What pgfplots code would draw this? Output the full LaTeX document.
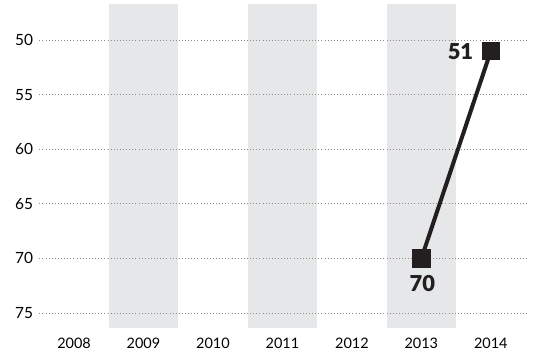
\documentclass[border=0pt]{standalone}
\usepackage{fontspec}
\setmainfont{Lato}
\newfontfamily\latoblack{Lato Black}
\usepackage{pgfplots}
\pgfplotsset{compat=1.18}
\definecolor{band}{HTML}{E6E7E8}
\definecolor{ink}{HTML}{231F20}
\definecolor{gridc}{HTML}{8C8C8C}
\begin{document}
\begin{tikzpicture}
\begin{axis}[
  set layers,
  scale only axis,
  width=487.7bp, height=323.7bp,
  xmin=2007.5, xmax=2014.52,
  ymin=46.7, ymax=76.35,
  y dir=reverse,
  xtick={2008,...,2014},
  ytick={50,55,60,65,70,75},
  xticklabel style={font=\fontsize{14.5}{16}\selectfont, anchor=north, inner sep=0pt, yshift=-10bp},
  yticklabel style={font=\fontsize{15.5}{17}\selectfont, anchor=east, inner sep=0pt, xshift=-6bp},
  /pgf/number format/assume math mode=true,
  /pgf/number format/1000 sep={},
  axis line style={draw=none},
  major tick length=0pt,
  tick style={draw=none},
  ymajorgrids,
  grid style={gridc, line width=0.9bp, dash pattern=on 0.9bp off 2.2bp},
  clip=false,
]
\begin{pgfonlayer}{axis background}
  \fill[band] (axis cs:2008.5,46.7) rectangle (axis cs:2009.5,76.35);
  \fill[band] (axis cs:2010.5,46.7) rectangle (axis cs:2011.5,76.35);
  \fill[band] (axis cs:2012.5,46.7) rectangle (axis cs:2013.5,76.35);
\end{pgfonlayer}
\addplot[ink, line width=4bp, mark=square*, mark size=7.3bp, mark options={fill=ink, draw=none}]
  coordinates {(2013,70) (2014,51)};
\addplot[draw=none, forget plot, nodes near coords, point meta=explicit symbolic,
  nodes near coords style={font=\fontsize{22}{24}\latoblack, text=ink, anchor=north, inner sep=0pt, yshift=-17bp, xshift=1bp}]
  coordinates {(2013,70) [70]};
\addplot[draw=none, forget plot, nodes near coords, point meta=explicit symbolic,
  nodes near coords style={font=\fontsize{22}{24}\latoblack, text=ink, anchor=east, inner sep=0pt, xshift=-17.5bp, yshift=-0.5bp}]
  coordinates {(2014,51) [51]};
\end{axis}
\pgfresetboundingbox
\path ([shift={(-39.3bp,-24.3bp)}]current axis.south west) rectangle ++(535bp,352bp);
\end{tikzpicture}
\end{document}
